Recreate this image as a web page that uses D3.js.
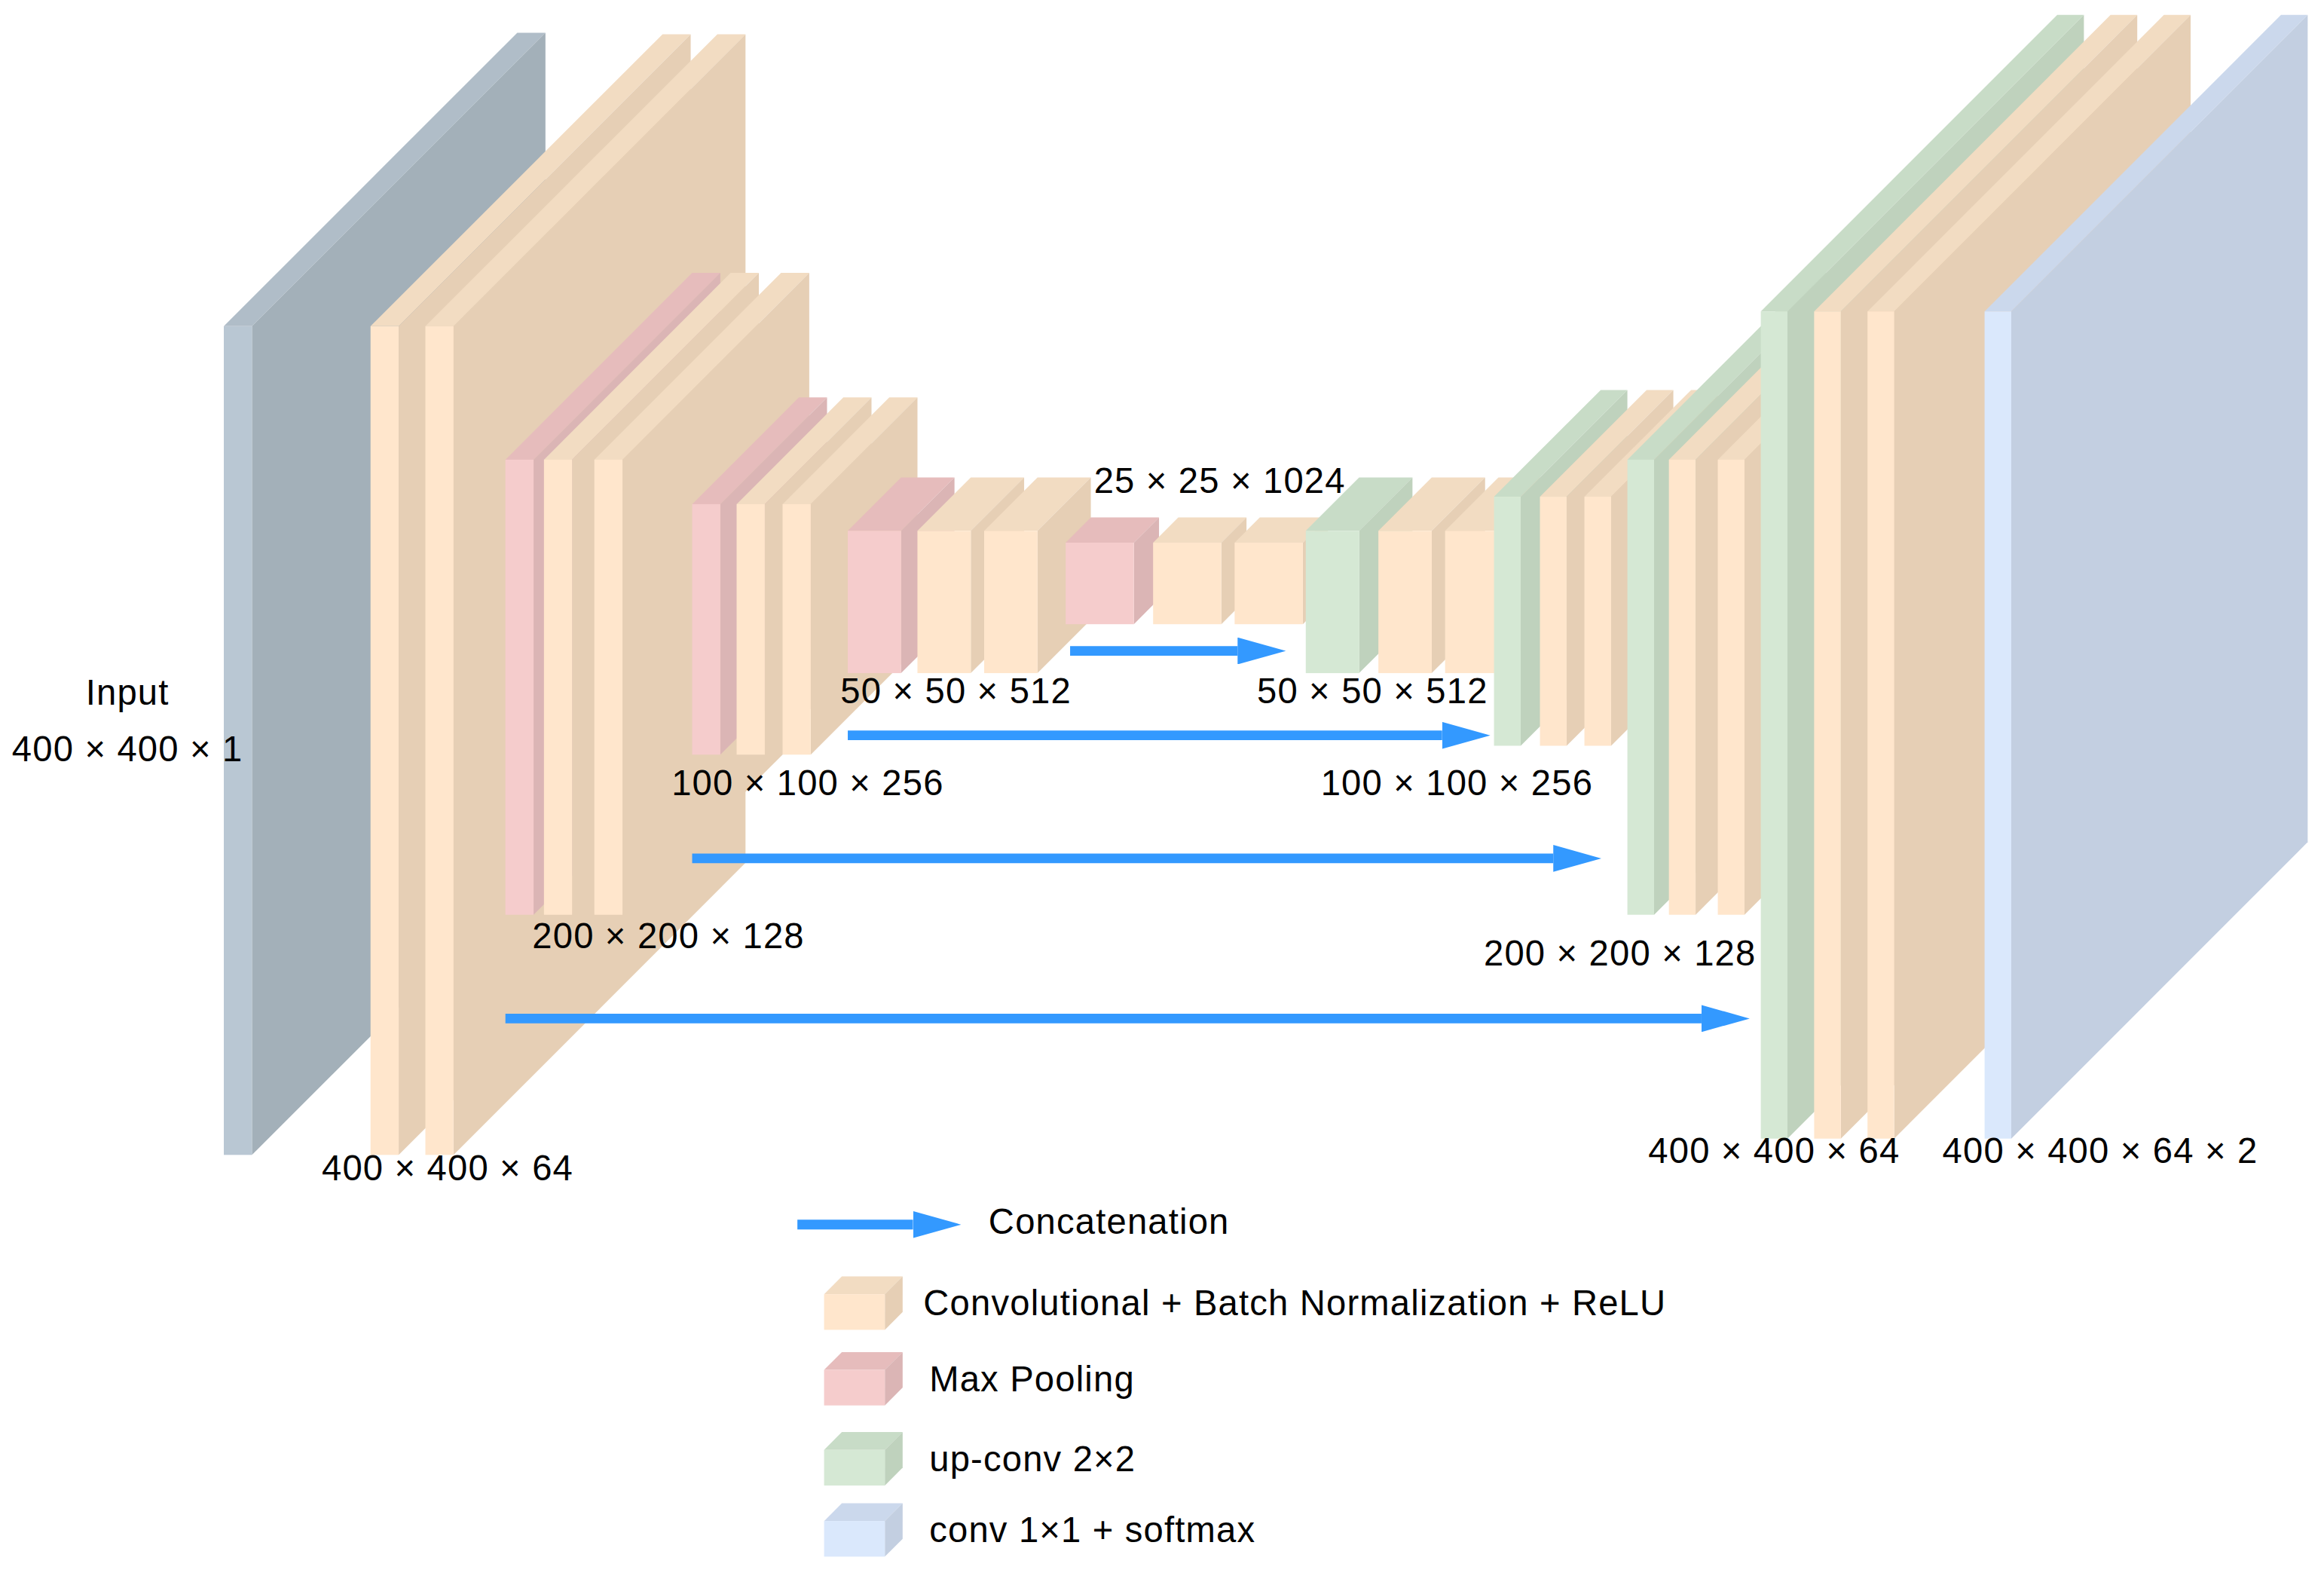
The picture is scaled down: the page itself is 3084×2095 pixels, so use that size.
<!DOCTYPE html>
<html><head><meta charset="utf-8">
<script src="https://cdn.jsdelivr.net/npm/d3@7"></script>
<style>body{margin:0;background:#fff}text{font-family:"Liberation Sans",Arial,sans-serif;fill:#000;letter-spacing:0.6px}</style>
</head><body>
<svg id="canvas" width="3084" height="2095" viewBox="0 0 1568 1065"></svg>
<script>
const svg = d3.select("#canvas");

// colours per block kind: front, top, side
const kinds = {
    input: ["#b9c7d3", "#b0bdc8", "#a3b0b9"],
    conv: ["#ffe6cc", "#f2dcc2", "#e6cfb5"],
    pool: ["#f5cccc", "#e6bcbc", "#dbb5b5"],
    up: ["#d5e8d4", "#c8dcc7", "#bfd2bd"],
    out: ["#dae8fc", "#cbd8ec", "#c3cfe1"]
};

// each stage: kinds of its blocks
const stageKinds = [
    ["input"],
    ["conv", "conv"],
    ["pool", "conv", "conv"],
    ["pool", "conv", "conv"],
    ["pool", "conv", "conv"],
    ["pool", "conv", "conv"],
    ["up", "conv", "conv"],
    ["up", "conv", "conv"],
    ["up", "conv", "conv"],
    ["up", "conv", "conv"],
    ["out"]
];
const stageLabels = ["Input\n400 × 400 × 1", "400 × 400 × 64", "200 × 200 × 128", "100 × 100 × 256",
    "50 × 50 × 512", "25 × 25 × 1024", "50 × 50 × 512", "100 × 100 × 256", "200 × 200 × 128",
    "400 × 400 × 64", "400 × 400 × 64 × 2"];
const legendLabels = ["Concatenation", "Convolutional + Batch Normalization + ReLU", "Max Pooling", "up-conv 2×2", "conv 1×1 + softmax"];
const legendKinds = ["conv", "pool", "up", "out"];

// layout: per stage block left edges, width, top, bottom, depth; label position
const layout = [
    {xs: [151], w: 19, y0: 220, y1: 779, d: 198, lx: 86, ly: 469},
    {xs: [250, 287], w: 19, y0: 220, y1: 779, d: 197, lx: 302, ly: 790},
    {xs: [341, 367, 401], w: 19, y0: 310, y1: 617, d: 126, lx: 451, ly: 633},
    {xs: [467, 497, 528], w: 19, y0: 340, y1: 509, d: 72, lx: 545, ly: 530},
    {xs: [572, 619, 664], w: 36, y0: 358, y1: 454, d: 36, lx: 645, ly: 468},
    {xs: [719, 778, 833], w: 46, y0: 366, y1: 421, d: 17, lx: 823, ly: 326},
    {xs: [881, 930, 975], w: 36, y0: 358, y1: 454, d: 36, lx: 926, ly: 468},
    {xs: [1008, 1039, 1069], w: 18, y0: 335, y1: 503, d: 72, lx: 983, ly: 530},
    {xs: [1098, 1126, 1159], w: 18, y0: 310, y1: 617, d: 126, lx: 1093, ly: 645},
    {xs: [1188, 1224, 1260], w: 18, y0: 210, y1: 768, d: 200, lx: 1197, ly: 778},
    {xs: [1339], w: 18, y0: 210, y1: 768, d: 200, lx: 1417, ly: 778}
];
// skip arrows: [x start, x end, y]
const arrows = [[722, 867, 439], [572, 1005, 496], [467, 1080, 579], [341, 1180, 687]];

function box(g, x, y, w, h, d, kind) {
    const c = kinds[kind];
    g.append("path").attr("fill", c[1])
        .attr("d", `M${x},${y}L${x + d},${y - d}L${x + w + d},${y - d}L${x + w},${y}Z`);
    g.append("path").attr("fill", c[2])
        .attr("d", `M${x + w},${y}L${x + w + d},${y - d}L${x + w + d},${y + h - d}L${x + w},${y + h}Z`);
    g.append("rect").attr("fill", c[0]).attr("x", x).attr("y", y).attr("width", w).attr("height", h);
}

const blocks = svg.append("g");
stageKinds.forEach((ks, i) => {
    const L = layout[i];
    ks.forEach((k, j) => box(blocks, L.xs[j], L.y0, L.w, L.y1 - L.y0, L.d, k));
});

svg.append("defs").append("marker").attr("id", "ah")
    .attr("viewBox", "0 0 10 10").attr("refX", 0).attr("refY", 5)
    .attr("markerWidth", 5).attr("markerHeight", 2.8).attr("orient", "auto")
    .attr("markerUnits", "strokeWidth").attr("preserveAspectRatio", "none")
    .append("path").attr("d", "M0,0L10,5L0,10Z").attr("fill", "#3399ff");

function arrow(x1, x2, y) {
    svg.append("line").attr("x1", x1).attr("x2", x2 - 32).attr("y1", y).attr("y2", y)
        .attr("stroke", "#3399ff").attr("stroke-width", 6.5).attr("marker-end", "url(#ah)");
}
arrows.forEach(a => arrow(a[0], a[1], a[2]));

stageLabels.forEach((s, i) => {
    const L = layout[i];
    s.split("\n").forEach((line, k) => {
        svg.append("text").attr("x", L.lx).attr("y", L.ly + k * 38)
            .attr("text-anchor", "middle").attr("dominant-baseline", "middle")
            .attr("font-size", 24).text(line);
    });
});

// legend
arrow(538, 648, 826);
svg.append("text").attr("x", 667).attr("y", 826).attr("dominant-baseline", "middle")
    .attr("font-size", 24).text(legendLabels[0]);
const legY = [873, 924, 978, 1026];
legendKinds.forEach((k, i) => {
    box(svg, 556, legY[i], 41, 24, 12, k);
    svg.append("text").attr("x", i === 0 ? 623 : 627).attr("y", legY[i] + 8)
        .attr("dominant-baseline", "middle").attr("font-size", 24).text(legendLabels[i + 1]);
});
</script>
</body></html>
